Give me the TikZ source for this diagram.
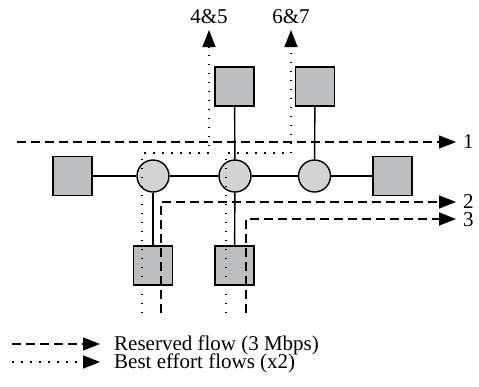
\documentclass[tikz,border=0pt]{standalone}
\usepackage{fontspec}
\setmainfont{Liberation Serif}
\usetikzlibrary{arrows.meta}
\definecolor{myhostcolor}{HTML}{BCBEC0}
\definecolor{myroutercolor}{HTML}{D1D3D4}

\begin{document}
\begin{tikzpicture}[x=1pt, y=-1pt,
  host/.style={draw, line width=1.6pt, fill=myhostcolor, rectangle, minimum width=39pt, minimum height=39pt, inner sep=0pt},
  router/.style={draw, line width=1.4pt, fill=myroutercolor, circle, minimum size=32pt, inner sep=0pt},
  link/.style={line width=1.4pt},
  reserved/.style={line width=1.5pt, dash pattern=on 9pt off 5pt, -{Triangle[length=17pt, width=13pt]}},
  besteffort/.style={line width=1.5pt, dash pattern=on 1.5pt off 7.5pt, -{Triangle[length=17pt, width=13pt]}},
  lbl/.style={inner sep=0pt, text height=13pt, text depth=0pt, font=\fontsize{21pt}{23pt}\selectfont}]%
\useasboundingbox (0,0) rectangle (479,386);%
% hosts and routers
\node[host] (hl) at (72.5, 176) {};%
\node[host] (hr) at (392.5, 176) {};%
\node[host] (ht1) at (234.5, 86.5) {};%
\node[host] (ht2) at (315, 86.5) {};%
\node[host] (hb1) at (153, 265.5) {};%
\node[host] (hb2) at (234.5, 265.5) {};%
\node[router] (r1) at (153, 176) {};%
\node[router] (r2) at (235, 176) {};%
\node[router] (r3) at (314.5, 176) {};%
% links
\draw[link] (hl) -- (r1) -- (r2) -- (r3) -- (hr);%
\draw[link] (r1) -- (hb1);%
\draw[link] (r2) -- (hb2);%
\draw[link] (r2) -- (ht1);%
\draw[link] (r3) -- (ht2);%
% reserved flows
\coordinate (f1s) at (17, 142);%
\coordinate (f1e) at (456, 142);%
\coordinate (f2s) at (161, 313);%
\coordinate (f2e) at (456, 202);%
\coordinate (f3s) at (246, 313);%
\coordinate (f3e) at (456, 219);%
\draw[reserved] (f1s) -- (f1e);%
\draw[reserved] (f2s) |- (f2e);%
\draw[reserved] (f3s) |- (f3e);%
\node[lbl, anchor=west] (l1) at (463, 142) {1};%
\node[lbl, anchor=west] (l2) at (463, 202) {2};%
\node[lbl, anchor=west] (l3) at (463, 219.5) {3};%
% best effort flows
\coordinate (b1s) at (142, 313);%
\coordinate (b1c) at (209, 153);%
\coordinate (b1e) at (209, 30);%
\coordinate (b2s) at (226, 313);%
\coordinate (b2c) at (291, 153);%
\coordinate (b2e) at (291, 30);%
\draw[besteffort] (b1s) |- (b1c) -- (b1e);%
\draw[besteffort] (b2s) |- (b2c) -- (b2e);%
\node[lbl] (l45) at (209, 17) {4\&5};%
\node[lbl] (l67) at (291, 17) {6\&7};%
% legend
\coordinate (k1s) at (12, 344);%
\coordinate (k1e) at (100, 344);%
\coordinate (k2s) at (12, 362);%
\coordinate (k2e) at (100, 362);%
\draw[reserved] (k1s) -- (k1e);%
\draw[besteffort] (k2s) -- (k2e);%
\node[lbl, anchor=west] (kr) at (114, 344) {Reserved flow (3 Mbps)};%
\node[lbl, anchor=west] (kb) at (114, 362) {Best effort flows (x2)};%
\end{tikzpicture}
\end{document}
